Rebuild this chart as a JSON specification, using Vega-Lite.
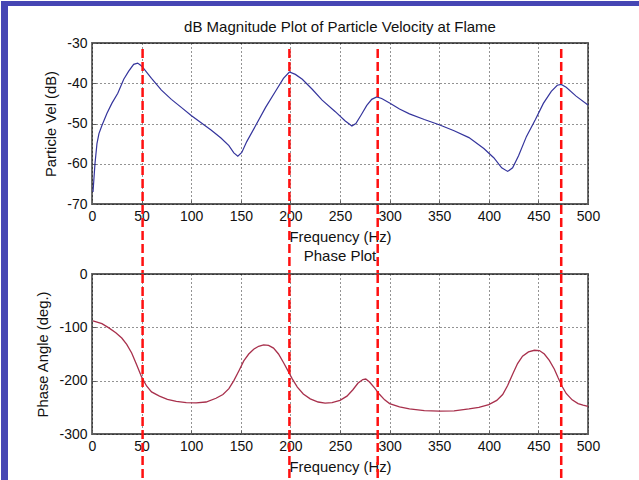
{
  "$schema": "https://vega.github.io/schema/vega-lite/v6.json",
  "background": "white",
  "padding": 0,
  "bounds": "flush",
  "spacing": 70,
  "datasets": {
    "mag": [
      {"f": 1, "db": -67}, {"f": 3, "db": -60}, {"f": 5, "db": -55}, {"f": 7, "db": -52.5},
      {"f": 10, "db": -50.5}, {"f": 15, "db": -47.5}, {"f": 20, "db": -45}, {"f": 26, "db": -42.5},
      {"f": 32, "db": -39}, {"f": 37, "db": -37}, {"f": 42, "db": -35.3}, {"f": 46, "db": -35},
      {"f": 49, "db": -35.5}, {"f": 52, "db": -36.3}, {"f": 60, "db": -38.8}, {"f": 70, "db": -41.7},
      {"f": 80, "db": -44}, {"f": 90, "db": -46}, {"f": 100, "db": -48}, {"f": 110, "db": -49.8},
      {"f": 120, "db": -51.6}, {"f": 130, "db": -53.6}, {"f": 138, "db": -55.5}, {"f": 143, "db": -57.3},
      {"f": 147, "db": -58.1}, {"f": 151, "db": -57.2}, {"f": 156, "db": -54.5}, {"f": 165, "db": -50.5},
      {"f": 175, "db": -46}, {"f": 185, "db": -42}, {"f": 193, "db": -38.8}, {"f": 199, "db": -37.2},
      {"f": 205, "db": -37.8}, {"f": 212, "db": -39}, {"f": 222, "db": -41.5}, {"f": 232, "db": -44.2},
      {"f": 245, "db": -47}, {"f": 255, "db": -49.3}, {"f": 262, "db": -50.6}, {"f": 266, "db": -50},
      {"f": 271, "db": -48}, {"f": 277, "db": -45.5}, {"f": 282, "db": -44}, {"f": 287, "db": -43.4},
      {"f": 292, "db": -43.8}, {"f": 300, "db": -44.9}, {"f": 310, "db": -46.4}, {"f": 320, "db": -47.6},
      {"f": 335, "db": -49}, {"f": 350, "db": -50.3}, {"f": 365, "db": -51.8}, {"f": 380, "db": -53.5},
      {"f": 395, "db": -56.2}, {"f": 405, "db": -58.5}, {"f": 413, "db": -61}, {"f": 419, "db": -61.9},
      {"f": 424, "db": -61}, {"f": 430, "db": -58}, {"f": 438, "db": -53.2}, {"f": 447, "db": -49},
      {"f": 455, "db": -45}, {"f": 463, "db": -42}, {"f": 469, "db": -40.5}, {"f": 473, "db": -40.3},
      {"f": 478, "db": -41}, {"f": 488, "db": -43.2}, {"f": 500, "db": -45.4}
    ],
    "phase": [
      {"f": 1, "deg": -88}, {"f": 10, "deg": -93}, {"f": 17, "deg": -101}, {"f": 24, "deg": -110},
      {"f": 30, "deg": -120}, {"f": 35, "deg": -132}, {"f": 40, "deg": -148}, {"f": 45, "deg": -170},
      {"f": 50, "deg": -193}, {"f": 55, "deg": -210}, {"f": 60, "deg": -221}, {"f": 68, "deg": -229},
      {"f": 76, "deg": -235}, {"f": 85, "deg": -239}, {"f": 95, "deg": -241}, {"f": 105, "deg": -241.5},
      {"f": 115, "deg": -240}, {"f": 125, "deg": -233}, {"f": 132, "deg": -226}, {"f": 138, "deg": -215},
      {"f": 143, "deg": -200}, {"f": 148, "deg": -182}, {"f": 153, "deg": -163}, {"f": 158, "deg": -150},
      {"f": 163, "deg": -141}, {"f": 168, "deg": -135.5}, {"f": 173, "deg": -133}, {"f": 178, "deg": -134},
      {"f": 183, "deg": -139}, {"f": 188, "deg": -150}, {"f": 193, "deg": -166}, {"f": 198, "deg": -183},
      {"f": 202, "deg": -197}, {"f": 207, "deg": -212}, {"f": 213, "deg": -225}, {"f": 220, "deg": -234},
      {"f": 228, "deg": -240}, {"f": 235, "deg": -242}, {"f": 242, "deg": -241}, {"f": 250, "deg": -237},
      {"f": 257, "deg": -229}, {"f": 263, "deg": -217}, {"f": 268, "deg": -205}, {"f": 273, "deg": -198},
      {"f": 276, "deg": -197}, {"f": 280, "deg": -203}, {"f": 285, "deg": -214}, {"f": 290, "deg": -226},
      {"f": 295, "deg": -236}, {"f": 300, "deg": -243}, {"f": 310, "deg": -249}, {"f": 320, "deg": -253},
      {"f": 335, "deg": -256}, {"f": 350, "deg": -257}, {"f": 365, "deg": -256.5}, {"f": 380, "deg": -253},
      {"f": 390, "deg": -250}, {"f": 400, "deg": -245}, {"f": 408, "deg": -237}, {"f": 414, "deg": -226},
      {"f": 419, "deg": -209}, {"f": 424, "deg": -188}, {"f": 429, "deg": -168}, {"f": 434, "deg": -154},
      {"f": 440, "deg": -146}, {"f": 446, "deg": -143}, {"f": 451, "deg": -143.5}, {"f": 456, "deg": -150},
      {"f": 461, "deg": -162}, {"f": 466, "deg": -178}, {"f": 470, "deg": -195}, {"f": 474, "deg": -211},
      {"f": 478, "deg": -224}, {"f": 484, "deg": -236}, {"f": 490, "deg": -243}, {"f": 495, "deg": -246},
      {"f": 500, "deg": -248}
    ],
    "modes": [{"f": 51}, {"f": 199}, {"f": 288}, {"f": 473}]
  },
  "config": {
    "font": "Liberation Sans",
    "view": {"stroke": "#5f5f5f", "strokeWidth": 1.8},
    "axis": {
      "grid": true, "gridColor": "#000000", "gridDash": [1, 3], "gridOpacity": 0.85, "gridWidth": 1,
      "domain": false, "ticks": true, "tickSize": -4, "tickColor": "#5f5f5f", "tickWidth": 1,
      "labelFont": "Liberation Sans", "labelFontSize": 14, "labelColor": "#111111", "labelPadding": 9,
      "labelFlush": false,
      "labelExpr": "'' + datum.value",
      "titleFont": "Liberation Sans", "titleFontSize": 14.8, "titleFontWeight": "normal", "titleColor": "#111111"
    },
    "axisX": {"titlePadding": 6},
    "axisY": {"titlePadding": 8},
    "title": {"font": "Liberation Sans", "fontSize": 15, "fontWeight": "normal", "color": "#111111", "anchor": "middle", "baseline": "alphabetic"}
  },
  "vconcat": [
    {
      "width": 496,
      "height": 161,
      "title": {"text": "dB Magnitude Plot of Particle Velocity at Flame", "offset": -34},
      "layer": [
        {
          "data": {"name": "mag"},
          "mark": {"type": "line", "color": "#34349c", "strokeWidth": 1.2},
          "encoding": {
            "x": {"field": "f", "type": "quantitative", "scale": {"domain": [0, 500], "nice": false},
                  "axis": {"title": "Frequency (Hz)", "values": [0, 50, 100, 150, 200, 250, 300, 350, 400, 450, 500]}},
            "y": {"field": "db", "type": "quantitative", "scale": {"domain": [-70, -30], "nice": false, "zero": false},
                  "axis": {"title": "Particle Vel (dB)", "values": [-70, -60, -50, -40, -30]}}
          }
        },
        {
          "data": {"values": [{}]},
          "mark": {"type": "rect", "color": "#4646b4", "clip": false},
          "encoding": {
            "x": {"datum": -91.73, "type": "quantitative", "scale": {"domain": [0, 500], "nice": false}},
            "x2": {"datum": -84.68},
            "y": {"datum": -19.565, "type": "quantitative", "scale": {"domain": [-70, -30], "nice": false, "zero": false}},
            "y2": {"datum": -138.82}
          }
        },
        {
          "data": {"values": [{}]},
          "mark": {"type": "rect", "color": "#4646b4", "clip": false},
          "encoding": {
            "x": {"datum": -91.73, "type": "quantitative", "scale": {"domain": [0, 500], "nice": false}},
            "x2": {"datum": 552.42},
            "y": {"datum": -19.565, "type": "quantitative", "scale": {"domain": [-70, -30], "nice": false, "zero": false}},
            "y2": {"datum": -20.807}
          }
        },
        {
          "data": {"name": "modes"},
          "mark": {"type": "rule", "color": "#ff1010", "strokeWidth": 2.5, "strokeDash": [9, 4], "clip": false},
          "encoding": {
            "x": {"field": "f", "type": "quantitative", "scale": {"domain": [0, 500], "nice": false}},
            "y": {"datum": -31.5, "type": "quantitative", "scale": {"domain": [-70, -30], "nice": false, "zero": false}},
            "y2": {"datum": -87.4}
          }
        }
      ]
    },
    {
      "width": 496,
      "height": 160,
      "title": {"text": "Phase Plot", "offset": 3},
      "layer": [
        {
          "data": {"name": "phase"},
          "mark": {"type": "line", "color": "#a8304c", "strokeWidth": 1.3},
          "encoding": {
            "x": {"field": "f", "type": "quantitative", "scale": {"domain": [0, 500], "nice": false},
                  "axis": {"title": "Frequency (Hz)", "values": [0, 50, 100, 150, 200, 250, 300, 350, 400, 450, 500]}},
            "y": {"field": "deg", "type": "quantitative", "scale": {"domain": [-300, 0], "nice": false},
                  "axis": {"title": "Phase Angle (deg.)", "values": [-300, -200, -100, 0]}}
          }
        },
        {
          "data": {"name": "modes"},
          "mark": {"type": "rule", "color": "#ff1010", "strokeWidth": 2.5, "strokeDash": [9, 4], "clip": false},
          "encoding": {
            "x": {"field": "f", "type": "quantitative", "scale": {"domain": [0, 500], "nice": false}},
            "y": {"datum": 0, "type": "quantitative", "scale": {"domain": [-300, 0], "nice": false}},
            "y2": {"datum": -387.5}
          }
        }
      ]
    }
  ]
}
